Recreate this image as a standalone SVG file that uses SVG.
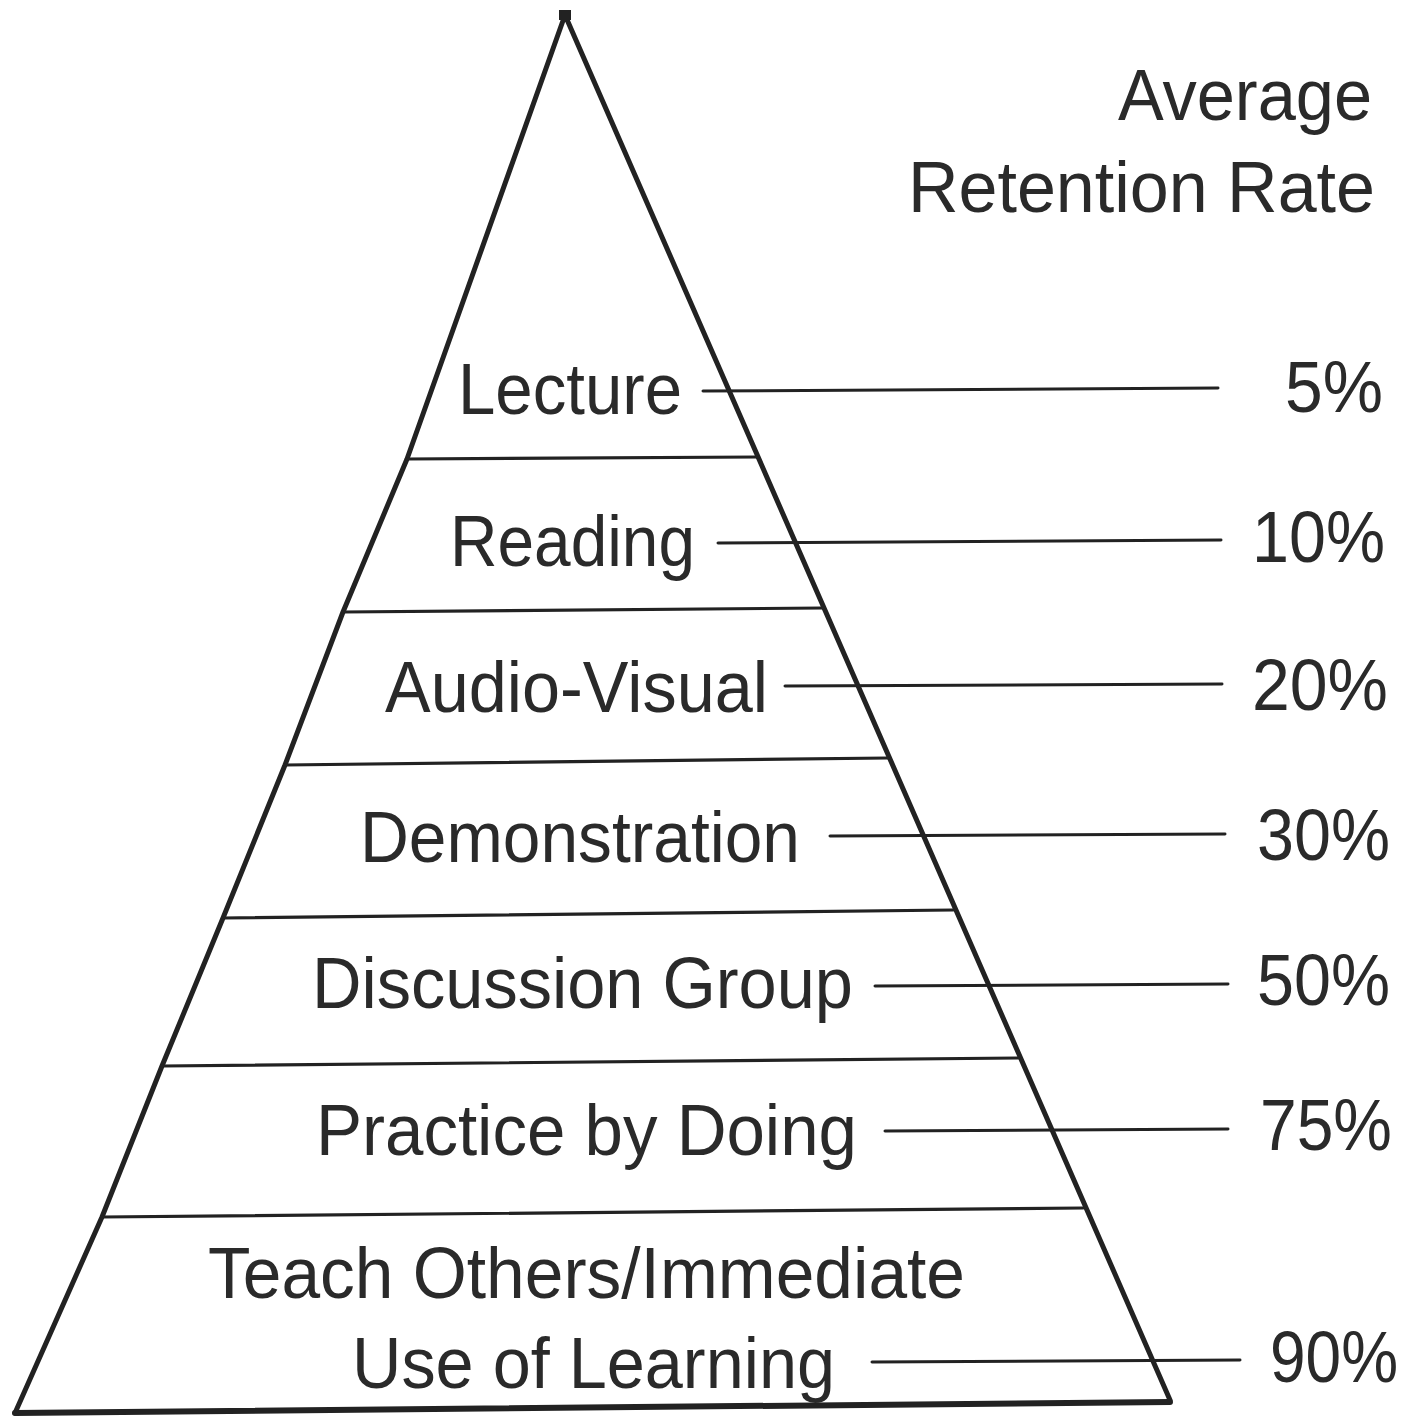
<svg xmlns="http://www.w3.org/2000/svg" width="1418" height="1416" viewBox="0 0 1418 1416">
<style>
  .edge{fill:none;stroke:#222;stroke-width:5;stroke-linejoin:round;stroke-linecap:round}
  .div{stroke:#222;stroke-width:3.2;stroke-linecap:round}
  .base{stroke:#222;stroke-width:6;stroke-linecap:round}
  .conn{stroke:#222;stroke-width:3;stroke-linecap:round}
  .t{font-family:"Liberation Sans",Arial,sans-serif;font-size:72px;fill:#2a2a2a}
</style>
<rect x="0" y="0" width="1418" height="1416" fill="#fff"/>
<g id="pyramid">
  <polyline class="edge" points="15,1413 102,1217 162,1066 223,918 285,765 343,612 407,459 565,15 1170,1400"/>
  <rect x="559" y="10" width="12" height="10" fill="#222"/>
  <line class="div" x1="407" y1="459" x2="758" y2="457"/>
  <line class="div" x1="343" y1="612" x2="823" y2="608"/>
  <line class="div" x1="285" y1="765" x2="888" y2="758"/>
  <line class="div" x1="223" y1="918" x2="953" y2="910"/>
  <line class="div" x1="162" y1="1066" x2="1018" y2="1058"/>
  <line class="div" x1="102" y1="1217" x2="1083" y2="1208"/>
  <line class="base" x1="15" y1="1413" x2="1170" y2="1402"/>
</g>
<g id="header">
  <text class="t" x="1118" y="120" textLength="254" lengthAdjust="spacingAndGlyphs">Average</text>
  <text class="t" x="908" y="212" textLength="467" lengthAdjust="spacingAndGlyphs">Retention Rate</text>
</g>
<g id="tier-lecture">
  <text class="t" x="458" y="414" textLength="224" lengthAdjust="spacingAndGlyphs">Lecture</text>
  <text class="t" x="1285" y="412" textLength="98" lengthAdjust="spacingAndGlyphs">5%</text>
</g>
<g id="tier-reading">
  <text class="t" x="450" y="566" textLength="245" lengthAdjust="spacingAndGlyphs">Reading</text>
  <text class="t" x="1252" y="562" textLength="133" lengthAdjust="spacingAndGlyphs">10%</text>
</g>
<g id="tier-audiovisual">
  <text class="t" x="385" y="712" textLength="383" lengthAdjust="spacingAndGlyphs">Audio-Visual</text>
  <text class="t" x="1252" y="710" textLength="136" lengthAdjust="spacingAndGlyphs">20%</text>
</g>
<g id="tier-demonstration">
  <text class="t" x="360" y="862" textLength="440" lengthAdjust="spacingAndGlyphs">Demonstration</text>
  <text class="t" x="1257" y="860" textLength="133" lengthAdjust="spacingAndGlyphs">30%</text>
</g>
<g id="tier-discussion">
  <text class="t" x="312" y="1008" textLength="541" lengthAdjust="spacingAndGlyphs">Discussion Group</text>
  <text class="t" x="1257" y="1005" textLength="133" lengthAdjust="spacingAndGlyphs">50%</text>
</g>
<g id="tier-practice">
  <text class="t" x="316" y="1155" textLength="541" lengthAdjust="spacingAndGlyphs">Practice by Doing</text>
  <text class="t" x="1260" y="1150" textLength="132" lengthAdjust="spacingAndGlyphs">75%</text>
</g>
<g id="tier-teach">
  <text class="t" x="208" y="1298" textLength="757" lengthAdjust="spacingAndGlyphs">Teach Others/Immediate</text>
  <text class="t" x="352" y="1388" textLength="483" lengthAdjust="spacingAndGlyphs">Use of Learning</text>
  <text class="t" x="1270" y="1382" textLength="128" lengthAdjust="spacingAndGlyphs">90%</text>
</g>
<g id="connectors">
  <line class="conn" x1="703" y1="391" x2="1218" y2="388"/>
  <line class="conn" x1="718" y1="543" x2="1221" y2="540"/>
  <line class="conn" x1="785" y1="686" x2="1222" y2="684"/>
  <line class="conn" x1="830" y1="836" x2="1225" y2="834"/>
  <line class="conn" x1="875" y1="986" x2="1228" y2="984"/>
  <line class="conn" x1="885" y1="1131" x2="1228" y2="1129"/>
  <line class="conn" x1="872" y1="1362" x2="1240" y2="1360"/>
</g>
</svg>
